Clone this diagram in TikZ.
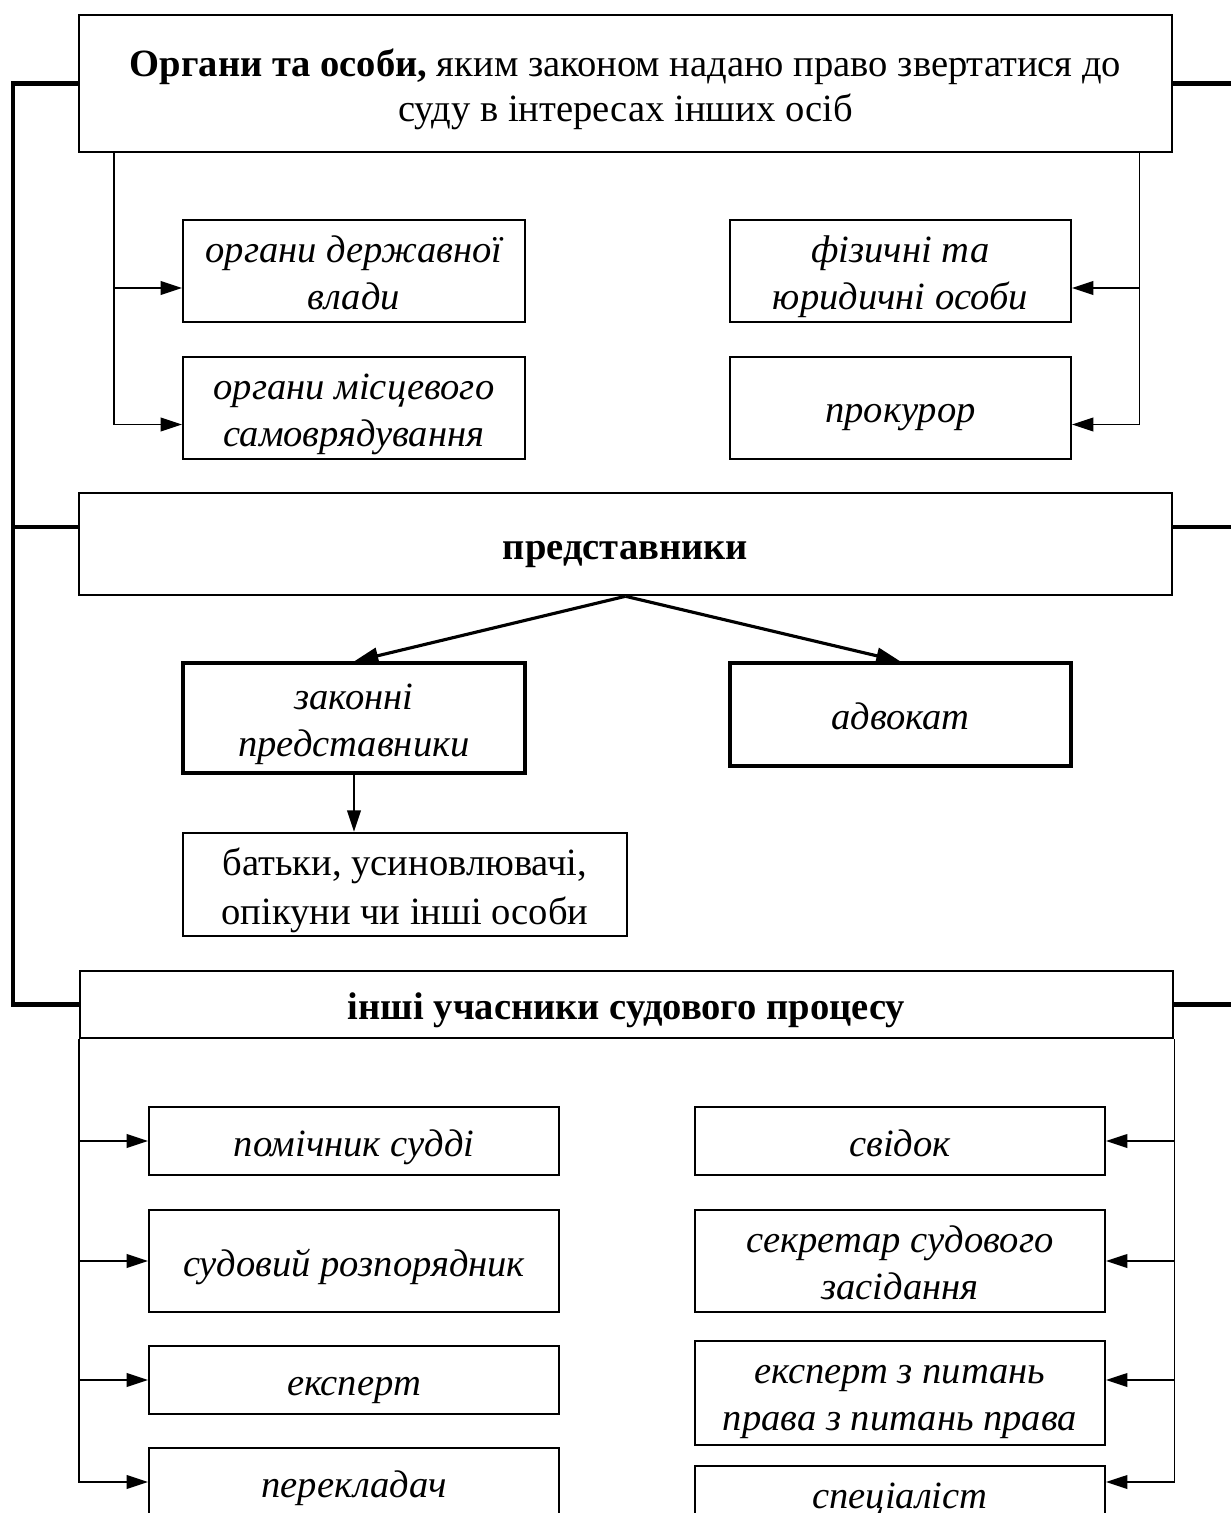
\documentclass[tikz,border=0pt]{standalone}
\usepackage{fontspec}
\setmainfont{Liberation Serif}
\usetikzlibrary{positioning}
\usetikzlibrary{arrows.meta}

\begin{document}
\begin{tikzpicture}[x=0.35pt, y=-0.35pt,
>={Triangle[length=7.5pt,width=4.8pt]},
sz/.style 2 args = {minimum width=#1*\px, text width=#1*\px-2pt, minimum height=#2*\px},
box/.style = {draw, line width=0.7pt, align=flush center, inner sep=0pt,
  execute at begin node={\rule{0pt}{14.95pt}},
  execute at end node={\rule[-4.3pt]{0pt}{4.3pt}},
  font=\fontsize{13.5}{15.75}\selectfont},
tight/.style = {execute at begin node=\strut, execute at end node=\strut},
head/.style = {box, line width=0.9pt, font=\fontsize{13.5}{15.75}\selectfont\bfseries},
item/.style = {box, font=\fontsize{13.5}{16.45}\selectfont\itshape},
item2/.style = {item, line width=1.1pt},
spine/.style = {line width=1.6pt},
edge/.style = {line width=0.55pt, ->},
edge2/.style = {line width=1.1pt, -{Triangle[length=8.5pt,width=5.6pt]}}]
\def\px{0.35pt}
\useasboundingbox (0,0) rectangle (1231,1513);

% first group
\node[box, line width=0.9pt, sz={1093}{137}] (top) at (625.5,83.5) {\textbf{Органи та особи,} яким законом надано право звертатися до\\суду в інтересах інших осіб};
\node[item, sz={342}{102}] (vlada) at (354,271) {органи державної\\влади};
\node[item, sz={342}{102}] (misc) at (354,407.5) {органи місцевого\\самоврядування};
\node[item, sz={341}{102}] (fiz) at (900.5,271) {фізичні та\\юридичні особи};
\node[item, sz={341}{102}] (prok) at (900.5,407.5) {прокурор};

% second group
\node[head, sz={1093}{102}] (repr) at (625.5,544) {представники};
\node[item2, sz={342}{110}] (zak) at (354,718) {законні\\представники};
\node[item2, sz={341}{103}] (adv) at (900.5,714.5) {адвокат};
\node[box, sz={444}{103}, font=\fontsize{13.5}{17}\selectfont] (bat) at (405,884.5) {батьки, усиновлювачі,\\опікуни чи інші особи};

% third group
\node[head, sz={1093}{67}] (oth) at (626.5,1004.5) {інші учасники судового процесу};
\node[item, sz={410}{68}] (pom) at (354,1141) {помічник судді};
\node[item, sz={410}{102}] (sud) at (354,1261) {судовий розпорядник};
\node[item, sz={410}{68}] (eksp) at (354,1380) {експерт};
\node[item, sz={410}{68}] (perek) at (354,1482) {перекладач};
\node[item, sz={410}{68}] (svid) at (900,1141) {свідок};
\node[item, sz={410}{102}] (sekr) at (900,1261) {секретар судового\\засідання};
\node[item, tight, sz={410}{92}] (ekspp) at (900,1393) {експерт з питань\\права з питань права};
\node[item, tight, sz={410}{45}] (spec) at (900,1494.5) {спеціаліст};

% spine
\coordinate (s1) at (13,500);
\coordinate (s2) at (13,527);
\coordinate (e1) at (1231,83.5);
\coordinate (e2) at (1231,527);
\coordinate (e3) at (1231,1004.5);
\draw[spine] (top.west) -| (s1) |- (oth.west);
\draw[spine] (s2) -- ([yshift=17*\px]repr.west);
\draw[spine] (top.east) -- (e1);
\draw[spine] ([yshift=17*\px]repr.east) -- (e2);
\draw[spine] (oth.east) -- (e3);

% first group arrows
\draw[edge] ([xshift=36*\px]top.south west) |- ([yshift=-17*\px]vlada.west);
\draw[edge] ([xshift=36*\px]top.south west) |- ([yshift=-17*\px]misc.west);
\draw[edge] ([xshift=-34*\px]top.south east) |- ([yshift=-17*\px]fiz.east);
\draw[edge] ([xshift=-34*\px]top.south east) |- ([yshift=-17*\px]prok.east);

% second group arrows
\draw[edge2] (repr.south) -- (zak.north);
\draw[edge2] (repr.south) -- (adv.north);
\draw[edge] (zak.south) -- (zak.south |- bat.north);

% third group arrows
\draw[edge] (oth.south west) |- (pom.west);
\draw[edge] (oth.south west) |- (sud.west);
\draw[edge] (oth.south west) |- (eksp.west);
\draw[edge] (oth.south west) |- (perek.west);
\draw[edge] (oth.south east) |- (svid.east);
\draw[edge] (oth.south east) |- (sekr.east);
\draw[edge] (oth.south east) |- (ekspp.east |- eksp.east);
\draw[edge] (oth.south east) |- (spec.east |- perek.east);
\end{tikzpicture}
\end{document}
